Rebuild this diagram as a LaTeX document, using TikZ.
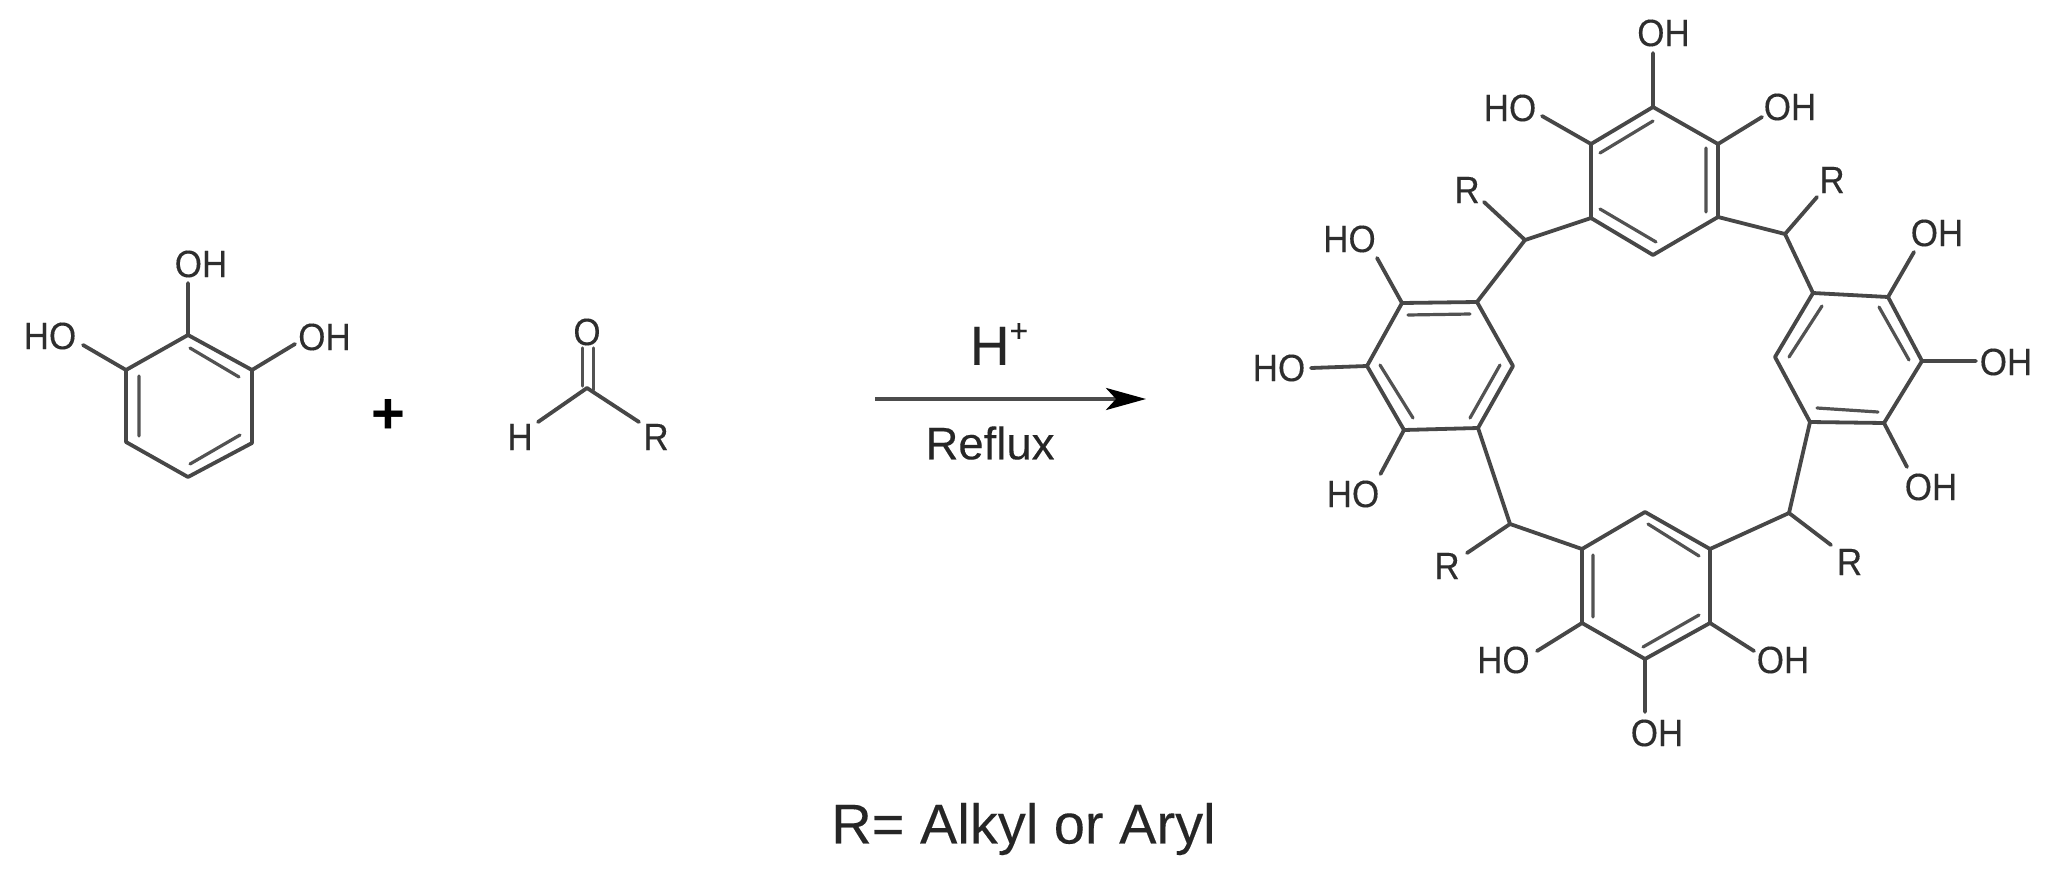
\documentclass[tikz,border=0pt]{standalone}
\usepackage{fontspec}
\setmainfont{Liberation Sans}
\newfontfamily\atomfont[FakeStretch=0.92,FakeBold=0.25]{Liberation Sans}
\newfontfamily\labelfont[FakeBold=0.2]{Liberation Sans}
\usetikzlibrary{arrows.meta}
\tikzset{
  bond/.style={draw=black!72,line width=3.8pt,line cap=round,line join=round},
  inner/.style={draw=black!68,line width=3.2pt,line cap=round},
  atom/.style={inner sep=0pt,text=black!82,font=\atomfont\fontsize{38}{40}\selectfont},
  caption/.style={inner sep=0pt,text=black!85,font=\labelfont\fontsize{#1}{60}\selectfont},
}
\begin{document}
\begin{tikzpicture}[x=1pt,y=-1pt]
\useasboundingbox (0,0) rectangle (2050,875);
% pyrogallol
\coordinate (a1) at (188,335); \coordinate (a2) at (252,370); \coordinate (a3) at (252,443);
\coordinate (a4) at (188,477); \coordinate (a5) at (126,442); \coordinate (a6) at (126,370);
\node[atom] (aoh1) at (201,264) {OH}; \node[atom] (aho) at (50,336) {HO}; \node[atom] (aoh2) at (324.5,337) {OH};
\coordinate (ae1) at (188,283); \coordinate (ae2) at (83,345); \coordinate (ae3) at (295,344);
\draw[bond] (a1)--(a2)--(a3)--(a4)--(a5)--(a6)--cycle;
\draw[bond] (a1)--(ae1) (a6)--(ae2) (a2)--(ae3);
\coordinate (ai1) at (190,348); \coordinate (ai2) at (239,377); \coordinate (ai3) at (139,376);
\coordinate (ai4) at (139,436); \coordinate (ai5) at (190,464); \coordinate (ai6) at (240,435);
\draw[inner] (ai1)--(ai2) (ai3)--(ai4) (ai5)--(ai6);
% plus
\node[font=\fontsize{58}{60}\bfseries\selectfont,inner sep=0pt] (plus) at (388,416) {+};
% aldehyde
\coordinate (c) at (587,388);
\node[atom] (o) at (587,332) {O}; \node[atom] (h) at (520,437) {H}; \node[atom] (r) at (656,437) {R};
\coordinate (ob1) at (582.5,348); \coordinate (ob2) at (593.5,348); \coordinate (cb1) at (582.5,386); \coordinate (cb2) at (593.5,390);
\coordinate (he) at (538,422); \coordinate (re) at (639,422);
\draw[inner] (ob1)--(cb1) (ob2)--(cb2);
\draw[bond] (he)--(c)--(re);
% arrow
\coordinate (ars) at (875,399); \coordinate (are) at (1146,399);
\draw[draw=black!70,line width=4pt,-{Stealth[length=40pt,width=22pt,inset=10pt,black]}] (ars)--(are);
\node[caption=55] (hplus) at (999,344) {H\raisebox{.42em}{\fontsize{32}{32}\selectfont+}};
\node[caption=45.5] (reflux) at (990,443) {Reflux};
\node[caption=56] (legend) at (1023.5,829) {R= Alkyl or Aryl};
% top ring
\coordinate (t1) at (1653,107); \coordinate (t2) at (1718,144); \coordinate (t3) at (1718,217);
\coordinate (t4) at (1653,255); \coordinate (t5) at (1591,218); \coordinate (t6) at (1591,144);
\draw[bond] (t1)--(t2)--(t3)--(t4)--(t5)--(t6)--cycle;
\node[atom] (toh1) at (1663.5,33) {OH}; \node[atom] (tho) at (1510,108) {HO}; \node[atom] (toh2) at (1790,107) {OH};
\coordinate (te1) at (1653,53); \coordinate (te2) at (1542,116); \coordinate (te3) at (1762,117);
\draw[bond] (t1)--(te1) (t6)--(te2) (t2)--(te3);
\coordinate (ti1) at (1653,121); \coordinate (ti2) at (1600,153); \coordinate (ti3) at (1706,148);
\coordinate (ti4) at (1706,212); \coordinate (ti5) at (1600,209); \coordinate (ti6) at (1656,242);
\draw[inner] (ti1)--(ti2) (ti3)--(ti4) (ti5)--(ti6);
% left ring
\coordinate (l1) at (1477,302); \coordinate (l2) at (1402,303); \coordinate (l3) at (1367,366);
\coordinate (l4) at (1404,430); \coordinate (l5) at (1478,428); \coordinate (l6) at (1513,366);
\draw[bond] (l1)--(l2)--(l3)--(l4)--(l5)--(l6)--cycle;
\node[atom] (lho1) at (1349.5,239) {HO}; \node[atom] (lho2) at (1279,368) {HO}; \node[atom] (lho3) at (1353,494) {HO};
\coordinate (le1) at (1377,258); \coordinate (le2) at (1311,368); \coordinate (le3) at (1380.5,474);
\draw[bond] (l2)--(le1) (l3)--(le2) (l4)--(le3);
\coordinate (li1) at (1408,315); \coordinate (li2) at (1470,314); \coordinate (li3) at (1380,365);
\coordinate (li4) at (1413,418); \coordinate (li5) at (1500,365); \coordinate (li6) at (1470,418);
\draw[inner] (li1)--(li2) (li3)--(li4) (li5)--(li6);
% right ring
\coordinate (r1) at (1813,293); \coordinate (r2) at (1888,297); \coordinate (r3) at (1922,361);
\coordinate (r4) at (1884,423); \coordinate (r5) at (1810,422); \coordinate (r6) at (1775,357);
\draw[bond] (r1)--(r2)--(r3)--(r4)--(r5)--(r6)--cycle;
\node[atom] (roh1) at (1937,233) {OH}; \node[atom] (roh2) at (2006,362) {OH}; \node[atom] (roh3) at (1931,487) {OH};
\coordinate (re1) at (1914,252); \coordinate (re2) at (1976,361); \coordinate (re3) at (1907,467);
\draw[bond] (r2)--(re1) (r3)--(re2) (r4)--(re3);
\coordinate (ri1) at (1822,306); \coordinate (ri2) at (1789,357); \coordinate (ri3) at (1879,307);
\coordinate (ri4) at (1909,360); \coordinate (ri5) at (1817,408); \coordinate (ri6) at (1878,412);
\draw[inner] (ri1)--(ri2) (ri3)--(ri4) (ri5)--(ri6);
% bottom ring
\coordinate (b1) at (1645,512); \coordinate (b2) at (1710,549); \coordinate (b3) at (1710,623);
\coordinate (b4) at (1645,659); \coordinate (b5) at (1582,623); \coordinate (b6) at (1582,549);
\draw[bond] (b1)--(b2)--(b3)--(b4)--(b5)--(b6)--cycle;
\node[atom] (bho) at (1503.4,660) {HO}; \node[atom] (boh1) at (1783,660) {OH}; \node[atom] (boh2) at (1657,733) {OH};
\coordinate (be1) at (1537,651); \coordinate (be2) at (1754,651); \coordinate (be3) at (1645,712);
\draw[bond] (b5)--(be1) (b3)--(be2) (b4)--(be3);
\coordinate (bi1) at (1648,524); \coordinate (bi2) at (1699,556); \coordinate (bi3) at (1593,555);
\coordinate (bi4) at (1593,617); \coordinate (bi5) at (1643,647); \coordinate (bi6) at (1699,615);
\draw[inner] (bi1)--(bi2) (bi3)--(bi4) (bi5)--(bi6);
% methine bridges
\coordinate (m1) at (1525,240); \coordinate (m2) at (1785,234); \coordinate (m3) at (1510,524); \coordinate (m4) at (1789,513);
\node[atom] (r1l) at (1467,190) {R}; \node[atom] (r2l) at (1832,180) {R}; \node[atom] (r3l) at (1447,566) {R}; \node[atom] (r4l) at (1849.5,562) {R};
\coordinate (m1e) at (1484,202); \coordinate (m2e) at (1817,197); \coordinate (m3e) at (1467,553); \coordinate (m4e) at (1831,545);
\draw[bond] (t5)--(m1)--(l1) (m1)--(m1e);
\draw[bond] (t3)--(m2)--(r1) (m2)--(m2e);
\draw[bond] (b6)--(m3)--(l5) (m3)--(m3e);
\draw[bond] (b2)--(m4)--(r5) (m4)--(m4e);
\end{tikzpicture}
\end{document}
